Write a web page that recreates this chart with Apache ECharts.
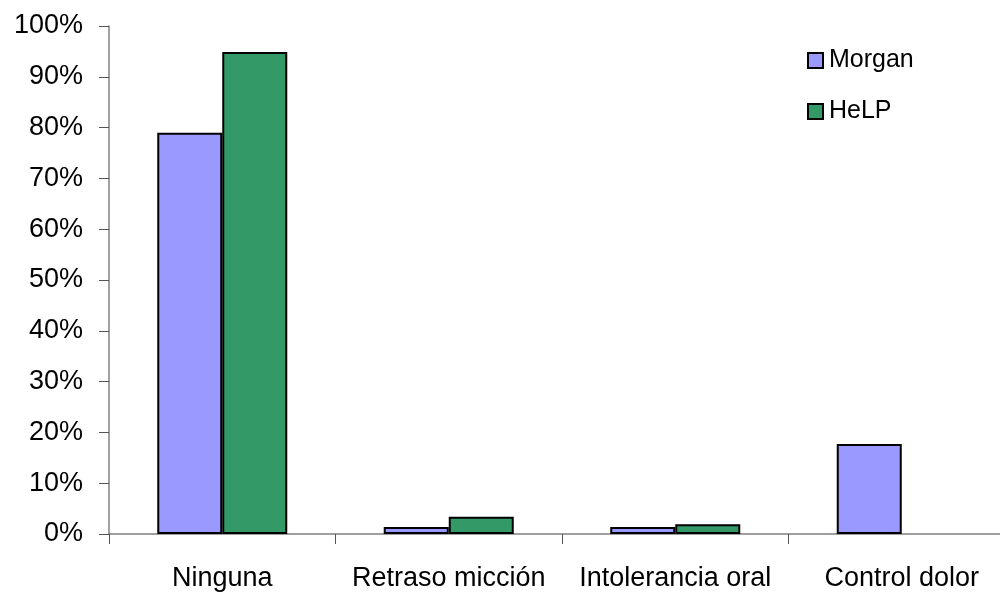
<!DOCTYPE html>
<html><head><meta charset="utf-8">
<script src="https://cdn.jsdelivr.net/npm/echarts@6/dist/echarts.min.js"></script>
<style>html,body{margin:0;padding:0;background:#fff;overflow:hidden}#c{width:1015px;height:594px}</style>
</head><body><div id="c"></div>
<script>
const categories = ['Ninguna', 'Retraso micción', 'Intolerancia oral', 'Control dolor'];
const morgan = [79, 1.4, 1.4, 17.7];
const help = [94.9, 3.4, 1.9, 0];
const seriesNames = ['Morgan', 'HeLP'];
const yTicks = { min: 0, max: 100, interval: 10 };

const hideZero = arr => arr.map(v => (v === 0 ? '-' : v));
const chart = echarts.init(document.getElementById('c'), null, { renderer: 'canvas' });
const font = 'Liberation Sans, Arial, sans-serif';
chart.setOption({
  animation: false,
  backgroundColor: '#fff',
  grid: { left: 109, top: 26, bottom: 60, right: 0, containLabel: false },
  legend: {
    orient: 'vertical', left: 802, top: 43, itemWidth: 15, itemHeight: 15, itemGap: 26,
    icon: 'rect',
    textStyle: { fontFamily: font, fontSize: 25, color: '#000', padding: [0, 0, 0, 1] },
    data: seriesNames
  },
  xAxis: {
    type: 'category', data: categories,
    axisLine: { lineStyle: { color: '#808080', width: 1.5 } },
    axisTick: { show: true, length: 10, lineStyle: { color: '#555' } },
    axisLabel: { fontFamily: font, fontSize: 27, color: '#000', margin: 31, interval: 0 }
  },
  yAxis: {
    type: 'value', min: yTicks.min, max: yTicks.max, interval: yTicks.interval,
    splitLine: { show: false },
    axisLine: { show: true, lineStyle: { color: '#808080', width: 1.5 } },
    axisTick: { show: true, length: 10, lineStyle: { color: '#555' } },
    axisLabel: { fontFamily: font, fontSize: 27, color: '#000', margin: 26, formatter: '{value}%' }
  },
  series: [
    { name: seriesNames[0], type: 'bar', data: hideZero(morgan), barWidth: 65, barGap: '0%',
      itemStyle: { color: '#9999FF', borderColor: '#000', borderWidth: 2 } },
    { name: seriesNames[1], type: 'bar', data: hideZero(help), barWidth: 65, barGap: '0%',
      itemStyle: { color: '#339966', borderColor: '#000', borderWidth: 2 } }
  ]
});
</script></body></html>
